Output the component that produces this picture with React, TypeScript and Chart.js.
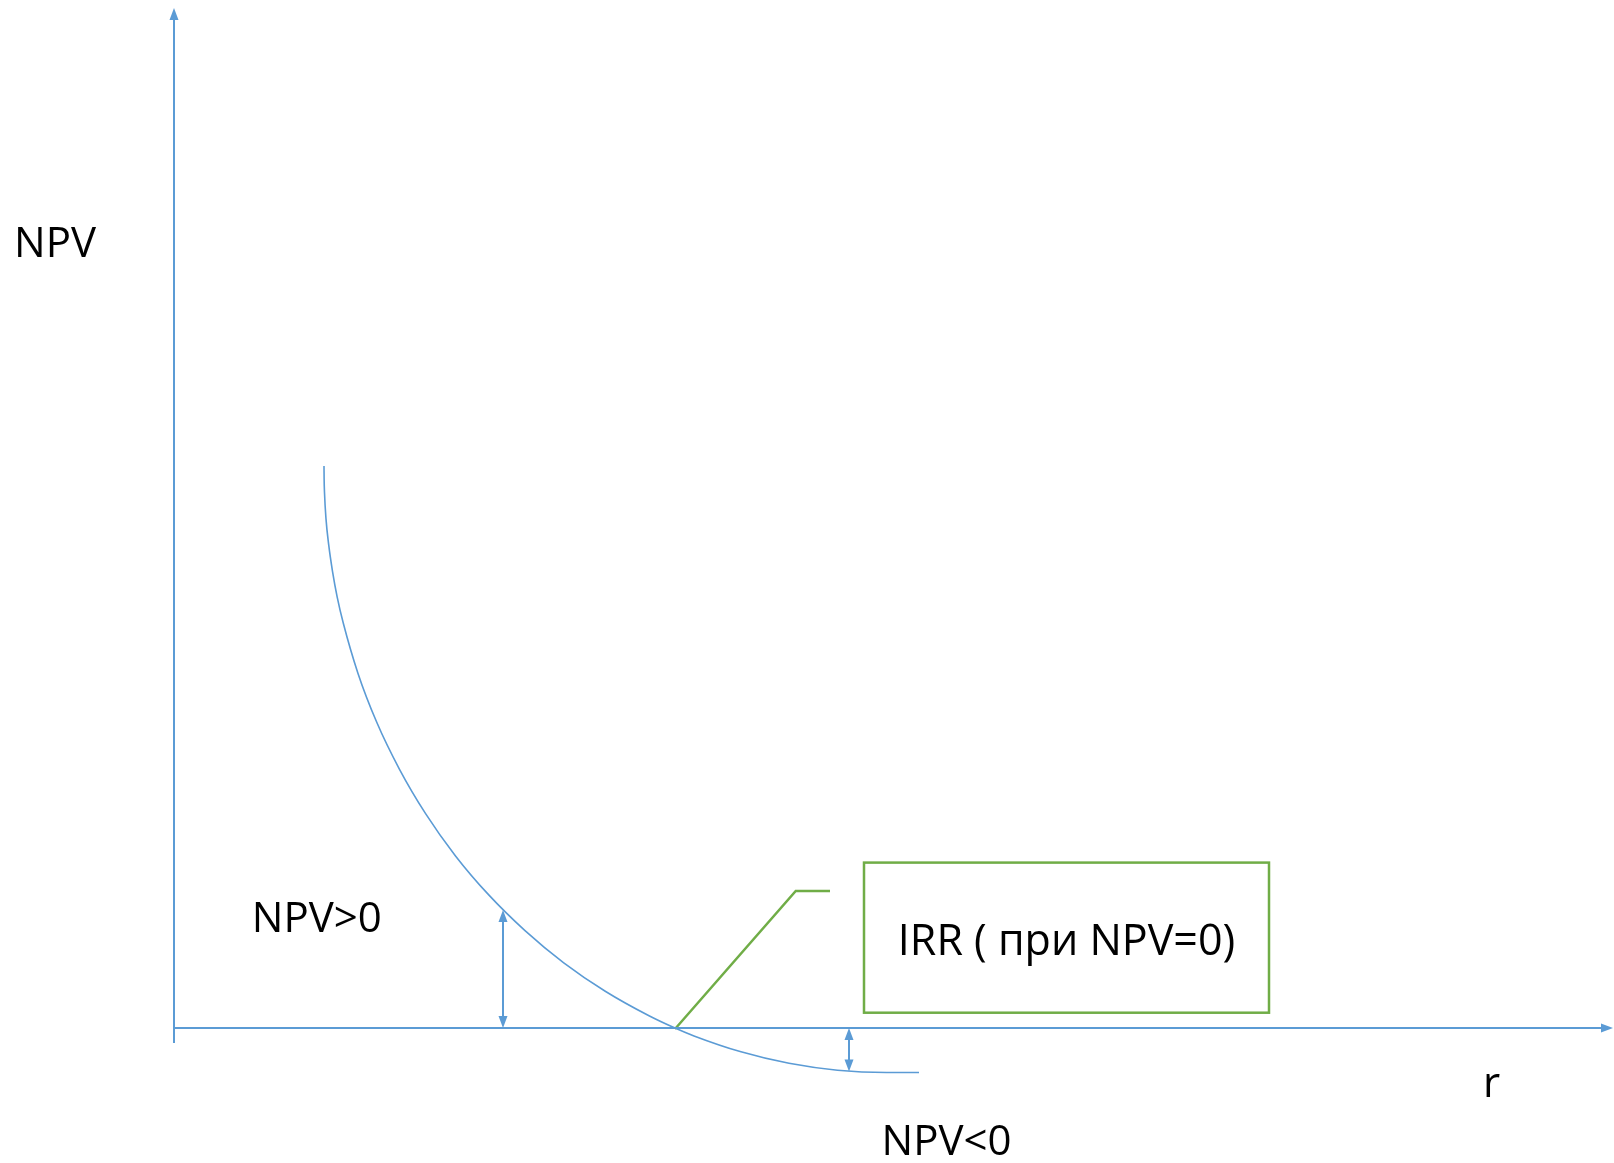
import { useEffect, useRef } from "react";
import { Chart, registerables } from "chart.js";
Chart.register(...registerables);

// NPV profile: discount rate r vs NPV
const curveR = [6.0, 6.005, 6.02, 6.08, 6.19, 6.34, 6.53, 6.77, 7.36, 8.11, 9.02, 10.07, 11.26, 12.59, 14.04, 15.59, 17.25, 19.0, 20.04, 20.8, 22.68, 24.6, 26.54, 28.5, 29.8];
const curveNPV = [56.2, 54.9, 53.55, 50.91, 48.28, 45.67, 43.07, 40.5, 35.46, 30.57, 25.87, 21.41, 17.21, 13.31, 9.74, 6.52, 3.68, 1.23, 0, -0.79, -2.38, -3.53, -4.22, -4.45, -4.45];

const IRR = 20.04;
const POS_MARK_R = 13.16; // NPV>0 measurement
const POS_MARK_NPV = 11.8;
const NEG_MARK_R = 27.0; // NPV<0 measurement
const NEG_MARK_NPV = -4.35;

const labels = ["NPV", "NPV>0", "IRR ( при NPV=0)", "r", "NPV<0"];

// scale ranges
const X_MIN = -6.96;
const X_MAX = 57.6;
const Y_MIN = -13.5;
const Y_MAX = 102.8;

const BLUE = "#5B9BD5";
const GREEN = "#70AD47";

function arrowHead(ctx: CanvasRenderingContext2D, tx: number, ty: number, dx: number, dy: number, L: number, W: number) {
  const len = Math.hypot(dx, dy);
  const ux = dx / len, uy = dy / len;
  const bx = tx - ux * L, by = ty - uy * L;
  ctx.beginPath();
  ctx.moveTo(tx, ty);
  ctx.lineTo(bx - uy * W, by + ux * W);
  ctx.lineTo(bx + uy * W, by - ux * W);
  ctx.closePath();
  ctx.fill();
}

const overlay = {
  id: "overlay",
  afterDatasetsDraw(chart: any) {
    const { ctx, scales } = chart;
    const X = (v: number) => scales.x.getPixelForValue(v);
    const Y = (v: number) => scales.y.getPixelForValue(v);
    ctx.save();
    ctx.fillStyle = BLUE;
    // axis arrows
    arrowHead(ctx, X(0), Y(102), 0, -1, 12, 4.5);
    arrowHead(ctx, X(57.56), Y(0), 1, 0, 12, 4.5);
    // measurement arrows
    arrowHead(ctx, X(POS_MARK_R), Y(POS_MARK_NPV), 0, -1, 12, 4.5);
    arrowHead(ctx, X(POS_MARK_R), Y(0), 0, 1, 12, 4.5);
    arrowHead(ctx, X(NEG_MARK_R), Y(0), 0, -1, 12, 4.5);
    arrowHead(ctx, X(NEG_MARK_R), Y(NEG_MARK_NPV), 0, 1, 12, 4.5);
    // IRR box
    ctx.strokeStyle = GREEN;
    ctx.lineWidth = 2.5;
    const bl = X(27.6), br = X(43.8), bt = Y(16.54), bb = Y(1.53);
    ctx.strokeRect(bl, bt, br - bl, bb - bt);
    // texts
    ctx.fillStyle = "#000";
    ctx.textAlign = "center";
    ctx.textBaseline = "alphabetic";
    ctx.font = '42px "Open Sans"';
    ctx.fillText(labels[0], X(-4.76), Y(77.1));
    ctx.fillText(labels[1], X(5.71), Y(9.63));
    ctx.fillText(labels[3], X(52.7), Y(-6.87));
    ctx.fillText(labels[4], X(30.9), Y(-12.7));
    ctx.font = '43px "Open Sans"';
    ctx.fillText(labels[2], X(35.7), Y(7.3));
    ctx.restore();
  },
};

export default function App() {
  const ref = useRef<HTMLCanvasElement | null>(null);
  useEffect(() => {
    if (!ref.current) return;
    const curve = curveR.map((r, i) => ({ x: r, y: curveNPV[i] }));
    const chart = new Chart(ref.current, {
      type: "scatter",
      data: {
        datasets: [
          { data: curve, borderColor: BLUE, borderWidth: 1.6, showLine: true, cubicInterpolationMode: "monotone", pointRadius: 0 } as any,
          { data: [{ x: 0, y: -1.5 }, { x: 0, y: 101 }], borderColor: BLUE, borderWidth: 2, showLine: true, pointRadius: 0 },
          { data: [{ x: 0, y: 0 }, { x: 57.2, y: 0 }], borderColor: BLUE, borderWidth: 2, showLine: true, pointRadius: 0 },
          { data: [{ x: POS_MARK_R, y: 0.5 }, { x: POS_MARK_R, y: POS_MARK_NPV - 0.5 }], borderColor: BLUE, borderWidth: 2, showLine: true, pointRadius: 0 },
          { data: [{ x: NEG_MARK_R, y: -0.5 }, { x: NEG_MARK_R, y: NEG_MARK_NPV + 0.5 }], borderColor: BLUE, borderWidth: 2, showLine: true, pointRadius: 0 },
          { data: [{ x: IRR, y: -0.1 }, { x: 24.87, y: 13.7 }, { x: 26.24, y: 13.7 }], borderColor: GREEN, borderWidth: 2.5, showLine: true, pointRadius: 0 },
        ],
      },
      options: {
        animation: false,
        responsive: false,
        devicePixelRatio: 1,
        layout: { padding: 0 },
        plugins: { legend: { display: false }, tooltip: { enabled: false } },
        scales: {
          x: { type: "linear", min: X_MIN, max: X_MAX, display: false },
          y: { type: "linear", min: Y_MIN, max: Y_MAX, display: false },
        },
      },
      plugins: [overlay],
    });
    return () => chart.destroy();
  }, []);
  return (
    <div style={{ position: "fixed", left: 0, top: 0, width: 1614, height: 1163, background: "#fff" }}>
      <canvas ref={ref} width={1614} height={1163} style={{ width: 1614, height: 1163 }} />
    </div>
  );
}
